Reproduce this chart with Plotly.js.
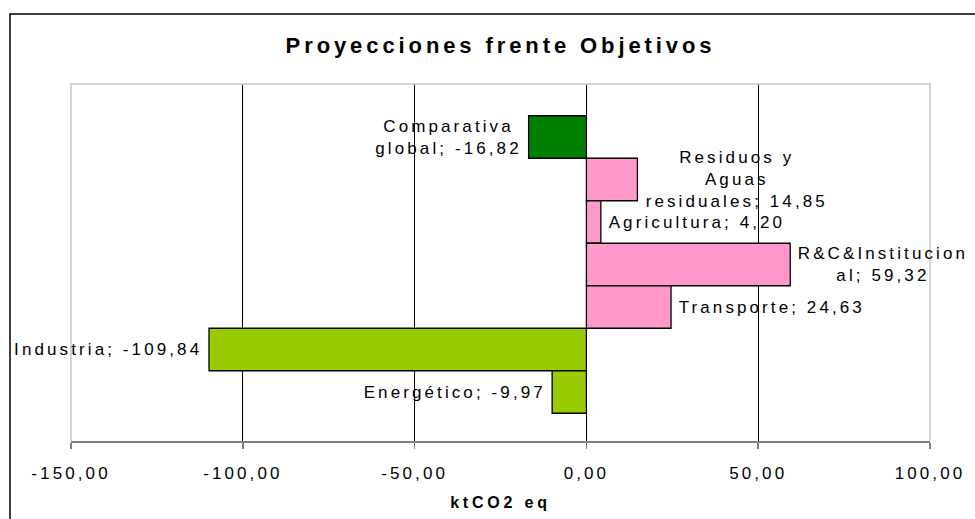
<!DOCTYPE html>
<html>
<head>
<meta charset="utf-8">
<script src="https://cdn.plot.ly/plotly-3.0.1.min.js"></script>
<style>
  html, body { margin: 0; padding: 0; background: #fff; }
  #chart { width: 975px; height: 519px; }
  .js-plotly-plot .gtitle { letter-spacing: 3.9px; }
  .js-plotly-plot .xtick text { letter-spacing: 3.1px; }
  .js-plotly-plot .xtitle { letter-spacing: 3.8px; }
  .js-plotly-plot .annotation-text { letter-spacing: 3.1px; }
</style>
</head>
<body>
<div id="chart"></div>
<script>
// ---- data ----
const categories = [
  "Comparativa<br>global",
  "Residuos y<br>Aguas<br>residuales",
  "Agricultura",
  "R&C&Institucion<br>al",
  "Transporte",
  "Industria",
  "Energético"
];
const values = [-16.82, 14.85, 4.20, 59.32, 24.63, -109.84, -9.97];
const tickValues = [-150, -100, -50, 0, 50, 100];
const tickLabels = ["-150,00", "-100,00", "-50,00", "0,00", "50,00", "100,00"];

// ---- styling ----
const colGlobal = "#008000";
const colPos = "#FF99CC";
const colNeg = "#99CC00";
const barColors = values.map((v, i) => i === 0 ? colGlobal : (v >= 0 ? colPos : colNeg));
const fontFam = "Liberation Sans, Arial, sans-serif";
const labelSize = 17;
const labelSpacing = 3.1; // must match CSS letter-spacing for .annotation-text

const fmt = v => v.toFixed(2).replace('.', ',');

const annotations = categories.map((c, i) => {
  const v = values[i];
  const pos = v >= 0;
  const raw = c + '; ' + fmt(v);
  const longest = Math.max(...raw.split('<br>').map(s => s.length));
  const corr = labelSpacing * longest / 2; // Plotly measures text without CSS letter-spacing
  return {
    x: v, y: c, xref: 'x', yref: 'y',
    text: raw.replace(/&/g, '&amp;'),
    showarrow: false,
    xanchor: pos ? 'left' : 'right',
    yanchor: 'middle',
    align: 'center',
    xshift: pos ? (6 + corr) : -(5 + corr),
    font: { family: fontFam, size: labelSize, color: '#000' }
  };
});

const trace = {
  type: 'bar',
  orientation: 'h',
  y: categories,
  x: values,
  width: 1,
  marker: { color: barColors, line: { color: '#000', width: 1.3 } },
  textposition: 'none',
  hoverinfo: 'none'
};

const layout = {
  width: 975, height: 519,
  margin: { l: 71, r: 45, t: 84, b: 78 },
  paper_bgcolor: '#fff', plot_bgcolor: '#fff',
  showlegend: false,
  title: {
    text: 'Proyecciones frente Objetivos',
    font: { family: fontFam, size: 22, color: '#000', weight: 'bold' },
    x: 0.5, xanchor: 'center', xref: 'paper',
    y: 1 - 45 / 519, yanchor: 'middle', yref: 'container'
  },
  xaxis: {
    range: [-150, 100],
    tickvals: tickValues, ticktext: tickLabels,
    showgrid: true, gridcolor: '#000', gridwidth: 1,
    zeroline: true, zerolinecolor: '#000', zerolinewidth: 1,
    showline: true, linecolor: '#808080', linewidth: 2,
    ticks: 'outside', ticklen: 6, tickcolor: '#808080', tickwidth: 1.5,
    ticklabelstandoff: 10,
    tickfont: { family: fontFam, size: 17, color: '#000' },
    title: { text: 'ktCO2 eq', font: { family: fontFam, size: 16, color: '#000', weight: 'bold' }, standoff: 14 },
    fixedrange: true
  },
  yaxis: {
    type: 'category',
    range: [7.153, -1.247],
    showticklabels: false, showgrid: false, zeroline: false, showline: false, ticks: '',
    fixedrange: true
  },
  bargap: 0,
  annotations: annotations,
  shapes: [
    { type: 'path', xref: 'paper', yref: 'paper', path: 'M0,0 L0,1 L1,1 L1,0',
      line: { color: '#C8C8C8', width: 1.5 }, layer: 'above' },
    { type: 'rect', xref: 'paper', yref: 'paper', x0: -0.071, x1: 1.2, y0: -0.4, y1: 1.196,
      line: { color: '#000', width: 1.5 }, layer: 'below' }
  ]
};

Plotly.newPlot('chart', [trace], layout, { displayModeBar: false, staticPlot: true });
</script>
</body>
</html>
